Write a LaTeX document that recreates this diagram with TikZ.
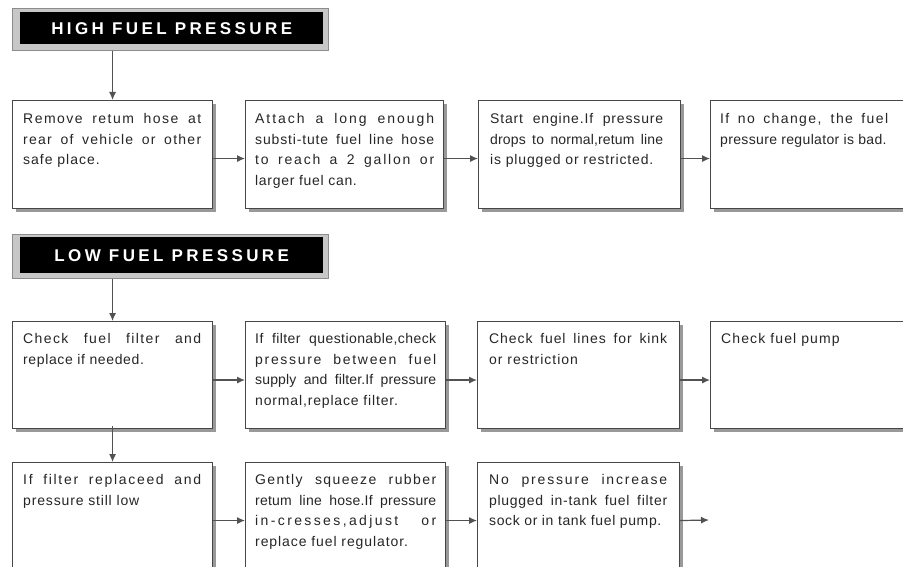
\documentclass[tikz,border=0pt]{standalone}
\usepackage{fontspec}
\setmainfont{Liberation Sans}
\newfontfamily\titlefont[LetterSpace=20]{Liberation Sans}
\newcommand\lsp[2]{{\addfontfeature{LetterSpace=#1}#2}}
\usetikzlibrary{arrows.meta,shadows}
\begin{document}
\begin{tikzpicture}[x=1pt,y=-1pt,
  box/.style={draw=black!72, line width=1.1pt, fill=white, anchor=north west,
    minimum width=200pt, minimum height=108pt, inner sep=0pt,
    drop shadow={shadow xshift=3pt, shadow yshift=-3pt, fill=black!40, opacity=1}},
  txt/.style={anchor=north west, inner sep=0pt, align=justify, text width=178pt,
    font=\fontsize{14}{20.5}\selectfont, text=black!85,
    execute at begin node={\hyphenpenalty=10000\tolerance=10000\strut}},
  tframe/.style={fill=black!22, draw=black!45, line width=0.8pt, anchor=north west,
    minimum width=316pt, minimum height=42pt, inner sep=0pt},
  tbar/.style={fill=black, anchor=north west, minimum width=303pt, minimum height=32pt,
    inner sep=0pt, text=white, font=\titlefont\bfseries\fontsize{17}{20}\selectfont},
  conn/.style={draw=black!68, line width=1.2pt, -{Latex[length=8pt,width=7pt]}}
]
\clip (0,0) rectangle (903,567);
\fill[white] (0,0) rectangle (903,567);

% ---- HIGH FUEL PRESSURE ----
\node[tframe] (hf) at (12,8) {};
\node[tbar] (ht) at (20,12) {HIGH FUEL PRESSURE};

\node[box] (b11) at (12,100) {};
\node[box, minimum width=198pt] (b12) at (245,100) {};
\node[box, minimum width=202pt] (b13) at (478,100) {};
\node[box] (b14) at (710,100) {};

\node[txt] (t11) at (23,109) {\lsp{10.5}{Remove retum hose at}\linebreak \lsp{9}{rear of vehicle or other}\linebreak \lsp{7}{safe place.}};
\node[txt, text width=179pt] (t12) at (255,109) {\lsp{14}{Attach a long enough}\linebreak \lsp{6}{substi-tute fuel line hose}\linebreak \lsp{13}{to reach a 2 gallon or}\linebreak \lsp{5}{larger fuel can.}};
\node[txt, text width=173pt] (t13) at (490,109) {\lsp{6}{Start engine.If pressure}\linebreak \lsp{1}{drops to normal,retum line}\linebreak \lsp{6}{is plugged or restricted.}};
\node[txt, text width=168pt] (t14) at (720,109) {\lsp{10}{If no change, the fuel}\linebreak \lsp{2.5}{pressure regulator is bad.}};

\draw[conn] (b11.north |- hf.south) -- (b11.north);
\draw[conn] ([yshift=-4pt]b11.east) -- ([yshift=-4pt]b12.west);
\draw[conn] ([yshift=-4pt]b12.east) -- ([yshift=-4pt]b13.west);
\draw[conn] ([yshift=-4pt]b13.east) -- ([yshift=-4pt]b14.west);

% ---- LOW FUEL PRESSURE ----
\node[tframe, minimum height=44pt] (lf) at (12,234) {};
\node[tbar, minimum height=36pt] (lt) at (20,237) {LOW FUEL PRESSURE};

\node[box, minimum height=107pt] (b21) at (12,321) {};
\node[box, minimum height=107pt] (b22) at (245,321) {};
\node[box, minimum height=107pt, minimum width=202pt] (b23) at (477,321) {};
\node[box, minimum height=107pt] (b24) at (710,321) {};

\node[txt] (t21) at (23,329) {\lsp{10}{Check fuel filter and}\linebreak \lsp{4.5}{replace if needed.}};
\node[txt, text width=181pt] (t22) at (255,329) {\lsp{3}{If filter questionable,check}\linebreak \lsp{12}{pressure between fuel}\linebreak \lsp{1}{supply and filter.If pressure}\linebreak \lsp{6}{normal,replace filter.}};
\node[txt] (t23) at (489,329) {\lsp{6.5}{Check fuel lines for kink}\linebreak \lsp{7}{or restriction}};
\node[txt] (t24) at (721,329) {\lsp{8}{Check fuel pump}};

\draw[conn] (b21.north |- lf.south) -- (b21.north);
\draw[conn] ([yshift=-5pt]b21.east) -- ([yshift=-5pt]b22.west);
\draw[conn] ([yshift=-5pt]b22.east) -- ([yshift=-5pt]b23.west);
\draw[conn] ([yshift=-5pt]b23.east) -- ([yshift=-5pt]b24.west);

% ---- third row ----
\node[box] (b31) at (12,462) {};
\node[box] (b32) at (245,462) {};
\node[box, minimum width=202pt] (b33) at (477,462) {};

\node[txt] (t31) at (23,470) {\lsp{12}{If filter replaceed and}\linebreak \lsp{6}{pressure still low}};
\node[txt, text width=181pt] (t32) at (255,470) {\lsp{10}{Gently squeeze rubber}\linebreak \lsp{1.5}{retum line hose.If pressure}\linebreak \lsp{17}{in-cresses,adjust or}\linebreak \lsp{6.5}{replace fuel regulator.}};
\node[txt] (t33) at (489,470) {\lsp{13}{No pressure increase}\linebreak \lsp{5}{plugged in-tank fuel filter}\linebreak \lsp{4.5}{sock or in tank fuel pump.}};

\coordinate (e3) at (709,520);
\draw[conn] ([yshift=3pt]b21.south) -- (b31.north);
\draw[conn] ([yshift=-4pt]b31.east) -- ([yshift=-4pt]b32.west);
\draw[conn] ([yshift=-4pt]b32.east) -- ([yshift=-4pt]b33.west);
\draw[conn] ([yshift=-4pt]b33.east) -- (e3);
\end{tikzpicture}
\end{document}
